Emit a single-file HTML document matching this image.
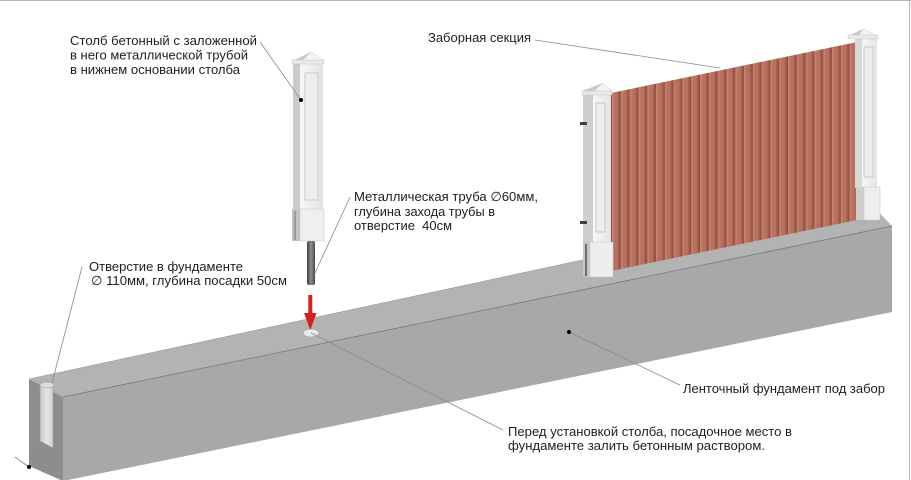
<!DOCTYPE html>
<html><head><meta charset="utf-8"><style>
html,body{margin:0;padding:0;background:#fff;}
svg{display:block;}
text{font-family:"Liberation Sans","DejaVu Sans",sans-serif;font-size:13px;fill:#1e1e1e;}
</style></head><body>
<svg width="911" height="480" viewBox="0 0 911 480" xmlns="http://www.w3.org/2000/svg">
<defs>
<pattern id="rib" patternUnits="userSpaceOnUse" x="611" y="0" width="8.8" height="480">
<rect x="0" y="0" width="8.8" height="480" fill="#b26c59"/>
<rect x="0" y="0" width="1" height="480" fill="#8f4f40"/>
<rect x="1" y="0" width="2" height="480" fill="#c4806c"/>
<rect x="3" y="0" width="4" height="480" fill="#b7715e"/>
<rect x="7" y="0" width="1.8" height="480" fill="#a05c4a"/>
</pattern>
<linearGradient id="front" x1="0" y1="0" x2="1" y2="0">
<stop offset="0" stop-color="#f7f7f7"/><stop offset="1" stop-color="#e4e4e4"/>
</linearGradient>
<linearGradient id="pipe" x1="0" y1="0" x2="1" y2="0">
<stop offset="0" stop-color="#3f3f3f"/><stop offset="0.5" stop-color="#8c8c8c"/><stop offset="1" stop-color="#4a4a4a"/>
</linearGradient>
<linearGradient id="slot" x1="0" y1="0" x2="1" y2="0">
<stop offset="0" stop-color="#c4c4c4"/><stop offset="0.5" stop-color="#e6e6e6"/><stop offset="1" stop-color="#cfcfcf"/>
</linearGradient>
</defs>

<!-- frame -->
<line x1="0" y1="0.5" x2="911" y2="0.5" stroke="#b5b5b5" stroke-width="1"/>
<line x1="909.5" y1="0" x2="909.5" y2="480" stroke="#b5b5b5" stroke-width="1"/>

<!-- beam -->
<polygon points="63,397 892,226 892,312 63,481" fill="#a8a8a8"/>
<polygon points="29,379 866,199 892,226 63,397" fill="#b3b3b3"/>
<polygon points="29,379 63,397 63,481 29,466" fill="#8d8d8d"/>
<line x1="63" y1="397" x2="892" y2="226" stroke="#7a7a7a" stroke-width="0.8"/>
<line x1="29" y1="379" x2="866" y2="199" stroke="#9a9a9a" stroke-width="0.6"/>
<!-- slot in end face -->
<polygon points="40,384 53,386 53,448 40,441" fill="url(#slot)" stroke="#9a9a9a" stroke-width="0.5"/>
<ellipse cx="47" cy="385" rx="7" ry="3" fill="#dcdcdc" stroke="#9a9a9a" stroke-width="0.5"/>

<!-- hole -->
<ellipse cx="311" cy="333" rx="8" ry="4" fill="#e9e9e9" stroke="#9c9c9c" stroke-width="0.6"/>

<!-- fence panel -->
<polygon points="611,93 857,42 857,220 611,271" fill="url(#rib)"/>

<!-- left fence post -->
<rect x="583" y="94" width="10" height="148" fill="#cfcfcf"/>
<rect x="593" y="94" width="18" height="148" fill="url(#front)"/>
<rect x="596" y="103" width="9" height="129" fill="#ededed" stroke="#b8b8b8" stroke-width="0.7"/>
<rect x="580" y="122" width="7" height="3" fill="#3e3e3e"/>
<rect x="580" y="221" width="7" height="3" fill="#3e3e3e"/>
<polygon points="582,91 603,83 593,92" fill="#c9c9c9"/>
<polygon points="593,92 603,83 612,91" fill="#f4f4f4" stroke="#c0c0c0" stroke-width="0.4"/>
<rect x="582" y="91" width="30" height="4" fill="#e8e8e8" stroke="#bdbdbd" stroke-width="0.4"/>
<rect x="583" y="242" width="7" height="35" fill="#c6c6c6"/>
<rect x="585" y="244" width="2" height="32" fill="#6e6e6e"/>
<rect x="590" y="242" width="23" height="35" fill="#eeeeee" stroke="#c4c4c4" stroke-width="0.5"/>

<!-- right fence post -->
<rect x="855" y="38" width="7" height="150" fill="#d9d9d9"/>
<rect x="862" y="38" width="15" height="150" fill="url(#front)"/>
<rect x="864" y="47" width="9" height="130" fill="#ededed" stroke="#b8b8b8" stroke-width="0.7"/>
<polygon points="848,36 863,29 857,38" fill="#cacaca"/>
<polygon points="857,38 863,29 878,36" fill="#f4f4f4" stroke="#c0c0c0" stroke-width="0.4"/>
<rect x="848" y="35" width="30" height="4" fill="#e8e8e8" stroke="#bdbdbd" stroke-width="0.4"/>
<rect x="856" y="187" width="8" height="33" fill="#cfcfcf"/>
<rect x="864" y="187" width="16" height="33" fill="#eeeeee" stroke="#c4c4c4" stroke-width="0.5"/>

<!-- standalone post -->
<rect x="293" y="64" width="7" height="146" fill="#cbcbcb"/>
<rect x="300" y="64" width="23" height="146" fill="url(#front)"/>
<rect x="305" y="73" width="13" height="127" fill="#eeeeee" stroke="#b8b8b8" stroke-width="0.7"/>
<polygon points="292,61 311,52 300,63" fill="#cbcbcb"/>
<polygon points="300,63 311,52 324,61" fill="#f5f5f5" stroke="#c0c0c0" stroke-width="0.4"/>
<rect x="292" y="60" width="32" height="4" fill="#e9e9e9" stroke="#bdbdbd" stroke-width="0.4"/>
<rect x="292" y="209" width="8" height="32" fill="#c2c2c2"/>
<rect x="294" y="211" width="2" height="29" fill="#9a9a9a"/>
<rect x="300" y="209" width="24" height="32" fill="#efefef" stroke="#c4c4c4" stroke-width="0.5"/>
<rect x="307" y="241" width="8" height="44" rx="2" fill="url(#pipe)"/>

<!-- red arrow -->
<rect x="308.3" y="295" width="4" height="19" fill="#d42020"/>
<polygon points="304,313 316.6,313 310.3,330" fill="#d42020"/>

<!-- leader lines -->
<g stroke="#8a8a8a" stroke-width="0.8" fill="none">
<line x1="260" y1="42" x2="301" y2="100"/>
<line x1="350" y1="197" x2="315" y2="273"/>
<line x1="82" y1="267" x2="52" y2="383"/>
<line x1="535" y1="40" x2="720" y2="68"/>
<line x1="569" y1="332" x2="680" y2="385"/>
<line x1="311" y1="333" x2="503" y2="430"/>
<line x1="29" y1="467" x2="15" y2="457"/>
</g>
<circle cx="301" cy="100" r="2" fill="#000"/>
<circle cx="569" cy="332" r="2" fill="#000"/>
<circle cx="29" cy="467" r="2" fill="#000"/>

<!-- labels -->
<text x="70" y="45" textLength="187" lengthAdjust="spacingAndGlyphs">Столб бетонный с заложенной</text>
<text x="70" y="59.5" textLength="178" lengthAdjust="spacingAndGlyphs">в него металлической трубой</text>
<text x="70" y="74" textLength="170" lengthAdjust="spacingAndGlyphs">в нижнем основании столба</text>

<text x="354" y="201" textLength="184" lengthAdjust="spacingAndGlyphs">Металлическая труба ∅60мм,</text>
<text x="354" y="216" textLength="141" lengthAdjust="spacingAndGlyphs">глубина захода трубы в</text>
<text x="354" y="230" textLength="98" lengthAdjust="spacingAndGlyphs">отверстие&#160; 40см</text>

<text x="89" y="271" textLength="154" lengthAdjust="spacingAndGlyphs">Отверстие в фундаменте</text>
<text x="91" y="285" textLength="196" lengthAdjust="spacingAndGlyphs">∅ 110мм, глубина посадки 50см</text>

<text x="428" y="42" textLength="103" lengthAdjust="spacingAndGlyphs">Заборная секция</text>

<text x="683" y="393" textLength="202" lengthAdjust="spacingAndGlyphs">Ленточный фундамент под забор</text>

<text x="508" y="436" textLength="284" lengthAdjust="spacingAndGlyphs">Перед установкой столба, посадочное место в</text>
<text x="508" y="450" textLength="257" lengthAdjust="spacingAndGlyphs">фундаменте залить бетонным раствором.</text>
</svg>
</body></html>
